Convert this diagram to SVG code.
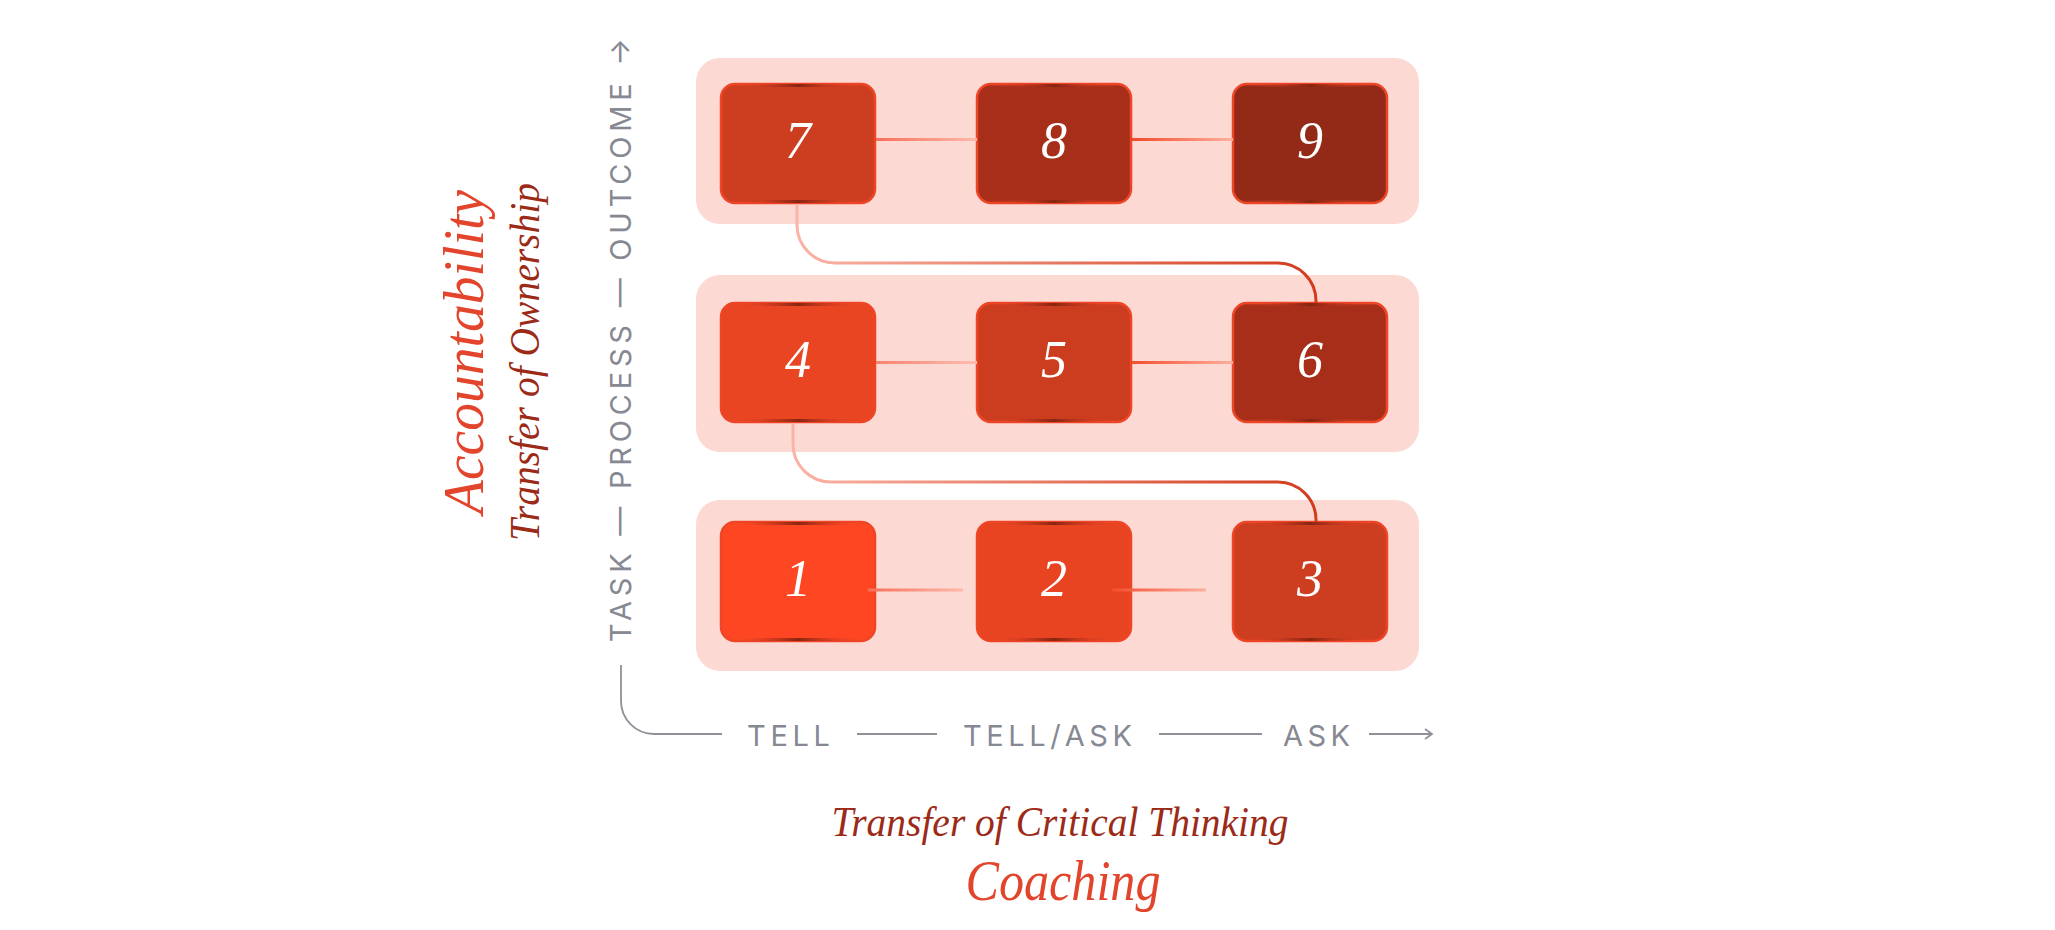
<svg xmlns="http://www.w3.org/2000/svg" width="2055" height="930" viewBox="0 0 2055 930">
<defs>
<style>
.band{fill:#fcd9d3}
.box{stroke:#ee4527;stroke-width:2.5}
.num{font-family:"Liberation Serif",serif;font-style:italic;font-size:52px;fill:#ffffff;text-anchor:middle}
.axis{font-family:Inter,"Liberation Sans",sans-serif;font-size:29px;fill:#868892}
.axl{fill:none;stroke:#8f9199;stroke-width:1.8}
.ttl{font-family:"Liberation Serif",serif;font-style:italic;text-anchor:middle}
.big{font-size:56px;fill:#e2452b}
.sub{font-size:42px;fill:#9b2a17}
.conn{fill:none;stroke:url(#gCurve);stroke-width:3}
</style>
<linearGradient id="gShade" x1="0" y1="0" x2="1" y2="0">
<stop offset="0" stop-color="#ee4527" stop-opacity="0"/>
<stop offset="0.5" stop-color="#862512"/>
<stop offset="1" stop-color="#ee4527" stop-opacity="0"/>
</linearGradient>
<linearGradient id="gCurve" x1="0" y1="0" x2="1" y2="0">
<stop offset="0" stop-color="#fab4a5"/>
<stop offset="1" stop-color="#d23b1c"/>
</linearGradient>
<linearGradient id="gA" x1="0" y1="0" x2="1" y2="0"><stop offset="0" stop-color="#f6705a"/><stop offset="1" stop-color="#ffb9ab"/></linearGradient>
<linearGradient id="gB" x1="0" y1="0" x2="1" y2="0"><stop offset="0" stop-color="#f24a2a"/><stop offset="1" stop-color="#ffb0a0"/></linearGradient>
<linearGradient id="gC" x1="0" y1="0" x2="1" y2="0"><stop offset="0" stop-color="#f58470"/><stop offset="1" stop-color="#ffbdb0"/></linearGradient>
<linearGradient id="gD" x1="0" y1="0" x2="1" y2="0"><stop offset="0" stop-color="#f34f30"/><stop offset="1" stop-color="#ffae9e"/></linearGradient>
<marker id="arr" markerWidth="10" markerHeight="12" refX="8" refY="6" orient="auto" markerUnits="userSpaceOnUse">
<path d="M1 1 L8 6 L1 11" fill="none" stroke="#8f9199" stroke-width="1.8"/>
</marker>
</defs>
<rect width="2055" height="930" fill="#ffffff"/>

<g id="bands">
<rect class="band" x="696" y="58" width="723" height="166" rx="24"/>
<rect class="band" x="696" y="275" width="723" height="177" rx="24"/>
<rect class="band" x="696" y="500" width="723" height="171" rx="24"/>
</g>

<g id="node-1"><rect class="box" x="721" y="522" width="154" height="119" rx="14" fill="#fe4722"/><rect x="735" y="522" width="126" height="3" fill="url(#gShade)"/><rect x="735" y="638" width="126" height="3" fill="url(#gShade)"/><text class="num" x="798" y="596">1</text></g>
<g id="node-2"><rect class="box" x="977" y="522" width="154" height="119" rx="14" fill="#e94422"/><rect x="991" y="522" width="126" height="3" fill="url(#gShade)"/><rect x="991" y="638" width="126" height="3" fill="url(#gShade)"/><text class="num" x="1054" y="596">2</text></g>
<g id="node-3"><rect class="box" x="1233" y="522" width="154" height="119" rx="14" fill="#cd3d1f"/><rect x="1247" y="522" width="126" height="3" fill="url(#gShade)"/><rect x="1247" y="638" width="126" height="3" fill="url(#gShade)"/><text class="num" x="1310" y="596">3</text></g>
<g id="node-4"><rect class="box" x="721" y="303" width="154" height="119" rx="14" fill="#e94522"/><rect x="735" y="303" width="126" height="3" fill="url(#gShade)"/><rect x="735" y="419" width="126" height="3" fill="url(#gShade)"/><text class="num" x="798" y="377">4</text></g>
<g id="node-5"><rect class="box" x="977" y="303" width="154" height="119" rx="14" fill="#cc3d1f"/><rect x="991" y="303" width="126" height="3" fill="url(#gShade)"/><rect x="991" y="419" width="126" height="3" fill="url(#gShade)"/><text class="num" x="1054" y="377">5</text></g>
<g id="node-6"><rect class="box" x="1233" y="303" width="154" height="119" rx="14" fill="#a72f1a"/><rect x="1247" y="303" width="126" height="3" fill="url(#gShade)"/><rect x="1247" y="419" width="126" height="3" fill="url(#gShade)"/><text class="num" x="1310" y="377">6</text></g>
<g id="node-7"><rect class="box" x="721" y="84" width="154" height="119" rx="14" fill="#cd3d1f"/><rect x="735" y="84" width="126" height="3" fill="url(#gShade)"/><rect x="735" y="200" width="126" height="3" fill="url(#gShade)"/><text class="num" x="798" y="158">7</text></g>
<g id="node-8"><rect class="box" x="977" y="84" width="154" height="119" rx="14" fill="#a72f1a"/><rect x="991" y="84" width="126" height="3" fill="url(#gShade)"/><rect x="991" y="200" width="126" height="3" fill="url(#gShade)"/><text class="num" x="1054" y="158">8</text></g>
<g id="node-9"><rect class="box" x="1233" y="84" width="154" height="119" rx="14" fill="#922a17"/><rect x="1247" y="84" width="126" height="3" fill="url(#gShade)"/><rect x="1247" y="200" width="126" height="3" fill="url(#gShade)"/><text class="num" x="1310" y="158">9</text></g>

<g id="connectors">
<rect x="876" y="138" width="101" height="3" fill="url(#gA)"/>
<rect x="1132" y="138" width="101" height="3" fill="url(#gB)"/>
<rect x="876" y="361" width="101" height="3" fill="url(#gC)"/>
<rect x="1132" y="361" width="101" height="3" fill="url(#gD)"/>
<rect x="868" y="588.5" width="95" height="3" fill="url(#gA)"/>
<rect x="1112" y="588.5" width="94" height="3" fill="url(#gD)"/>
<path class="conn" d="M797 204 V225 A38 38 0 0 0 835 263 H1278 A38 38 0 0 1 1316 301 V303"/>
<path class="conn" d="M793 423 V444 A38 38 0 0 0 831 482 H1278 A38 38 0 0 1 1316 520 V522"/>
</g>

<g id="y-axis">
<text class="axis" transform="translate(631,642) rotate(-90)" textLength="604" lengthAdjust="spacing">TASK — PROCESS — OUTCOME →</text>
</g>

<g id="x-axis">
<path class="axl" d="M621 665 V701 A33 33 0 0 0 654 734 H722"/>
<text class="axis" x="747" y="746" textLength="83" lengthAdjust="spacing">TELL</text>
<path class="axl" d="M857 734 H937"/>
<text class="axis" x="963" y="746" textLength="169" lengthAdjust="spacing">TELL/ASK</text>
<path class="axl" d="M1159 734 H1262"/>
<text class="axis" x="1283" y="746" textLength="67" lengthAdjust="spacing">ASK</text>
<path class="axl" d="M1369 734 H1432" marker-end="url(#arr)"/>
</g>

<g id="titles">
<text class="ttl big" transform="translate(483,352) rotate(-90)" textLength="324" lengthAdjust="spacingAndGlyphs">Accountability</text>
<text class="ttl sub" transform="translate(539,362) rotate(-90)" textLength="358" lengthAdjust="spacingAndGlyphs">Transfer of Ownership</text>
<text class="ttl sub" x="1060" y="836" textLength="457" lengthAdjust="spacingAndGlyphs">Transfer of Critical Thinking</text>
<text class="ttl big" x="1063" y="900" textLength="195" lengthAdjust="spacingAndGlyphs">Coaching</text>
</g>
</svg>
